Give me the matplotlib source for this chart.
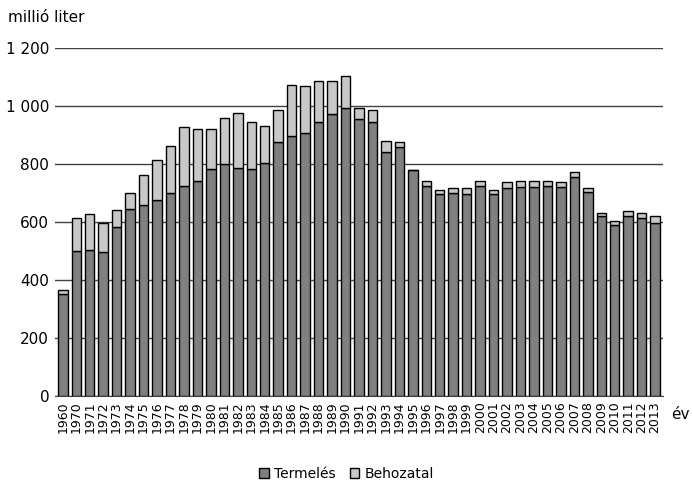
import matplotlib.pyplot as plt
import numpy as np

years = ['1960'] + [str(y) for y in range(1970, 2014)]
termeles = [353, 499, 504, 496, 584, 645, 659, 674, 699, 725, 740, 783, 798, 786, 783, 802,
            875, 897, 905, 945, 972, 993, 954, 946, 841, 859, 779, 725, 695, 699, 695, 725,
            695, 718, 722, 722, 725, 722, 755, 703, 619, 591, 622, 614, 595]
osszes = [365, 614, 626, 596, 641, 699, 763, 813, 862, 927, 920, 920, 958, 976, 943, 931,
          984, 1072, 1069, 1085, 1085, 1103, 991, 984, 878, 875, 779, 740, 710, 718, 718, 740,
          710, 737, 740, 740, 740, 737, 771, 718, 631, 603, 637, 631, 619]
behozatal = [o - t for o, t in zip(osszes, termeles)]

fig = plt.figure(figsize=(6.93, 4.96), dpi=100)
ax = fig.add_axes([0.079, 0.2016, 0.878, 0.702])
x = np.arange(len(years))
ax.bar(x, termeles, width=0.7, color='#808080', edgecolor='black', linewidth=1, label='Termelés', zorder=3)
ax.bar(x, behozatal, bottom=termeles, width=0.7, color='#c8c8c8', edgecolor='black', linewidth=1,
       label='Behozatal', zorder=3)

ax.set_ylim(0, 1200)
ax.set_xlim(-0.6, len(years) - 0.4)
ax.set_yticks(range(0, 1201, 200))
ax.set_yticklabels([f'{v:,}'.replace(',', ' ') for v in range(0, 1201, 200)], fontsize=11)
ax.yaxis.grid(True, color='#404040', linewidth=1, zorder=0)
ax.set_xticks(x)
ax.set_xticklabels(years, rotation=90, fontsize=9)
ax.tick_params(axis='both', length=0, pad=4)
for s in ['top', 'right', 'left']:
    ax.spines[s].set_visible(False)
ax.spines['bottom'].set_color('#404040')

fig.text(0.012, 0.955, 'millió liter', fontsize=11)
fig.text(0.968, 0.155, 'év', fontsize=11, ha='left')
fig.legend(loc='lower center', bbox_to_anchor=(0.5, 0.005), ncol=2, frameon=False, fontsize=10,
           handlelength=0.7, handleheight=0.7, columnspacing=1.0, handletextpad=0.4)

fig.savefig('out.png', dpi=100)
